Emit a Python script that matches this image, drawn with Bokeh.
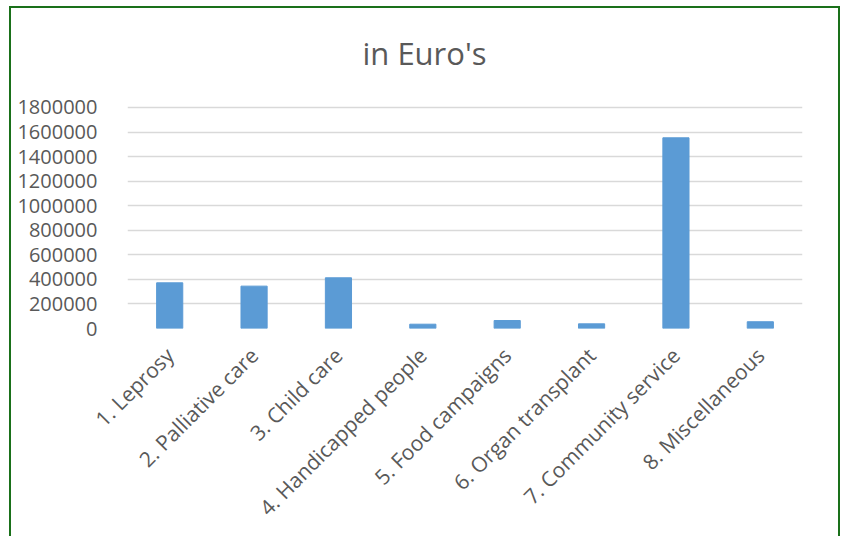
from bokeh.plotting import figure
from bokeh.models import FactorRange, Range1d, FixedTicker, BasicTickFormatter, Label
from bokeh.embed import file_html
from bokeh.resources import INLINE
import math

categories = ["1. Leprosy", "2. Palliative care", "3. Child care", "4. Handicapped people",
              "5. Food campaigns", "6. Organ transplant", "7. Community service", "8. Miscellaneous"]
values = [372000, 345000, 413000, 35000, 65000, 38000, 1553000, 55000]
y_ticks = [0, 200000, 400000, 600000, 800000, 1000000, 1200000, 1400000, 1600000, 1800000]
title_text = "in Euro's"

FONT = "Open Sans"
TXT = "#595959"
BORDER = "2px solid #1A701A"

# the frame reaches up to the top so the title can sit inside it;
# only ticks up to 1.8M get grid lines
Y_END = 2606000

p = figure(width=831, height=530, output_backend="svg", toolbar_location=None,
           x_range=FactorRange(*categories, range_padding=0),
           y_range=Range1d(0, Y_END),
           min_border_left=116, min_border_right=40, min_border_top=0, min_border_bottom=210)
p.margin = (6, 0, 0, 9)
p.styles = {"border-top": BORDER, "border-left": BORDER,
            "border-right": BORDER, "box-sizing": "border-box"}

p.vbar(x=categories, top=values, width=0.31, fill_color="#5B9BD5", line_color="#5B9BD5")

p.add_layout(Label(x=297, y=276, x_units="screen", y_units="screen", text=title_text,
                   text_align="center", text_baseline="middle", text_font=FONT,
                   text_font_size="31px", text_color=TXT))

p.outline_line_color = None
p.xgrid.grid_line_color = None
p.ygrid.grid_line_color = "#D9D9D9"
p.ygrid.grid_line_width = 1.5

p.yaxis.ticker = FixedTicker(ticks=y_ticks)
p.yaxis.formatter = BasicTickFormatter(use_scientific=False)
p.yaxis.axis_line_color = None
p.yaxis.major_tick_line_color = None
p.yaxis.minor_tick_line_color = None
p.yaxis.major_label_text_font = FONT
p.yaxis.major_label_text_font_size = "20px"
p.yaxis.major_label_text_color = TXT
p.yaxis.major_label_standoff = 24

p.xaxis.axis_line_color = None
p.xaxis.major_tick_line_color = None
p.xaxis.minor_tick_line_color = None
p.xaxis.major_label_orientation = math.pi / 4
p.xaxis.major_label_text_font = FONT
p.xaxis.major_label_text_font_size = "21px"
p.xaxis.major_label_text_color = TXT
p.xaxis.major_label_standoff = 17

open("out.html", "w").write(file_html(p, INLINE))
